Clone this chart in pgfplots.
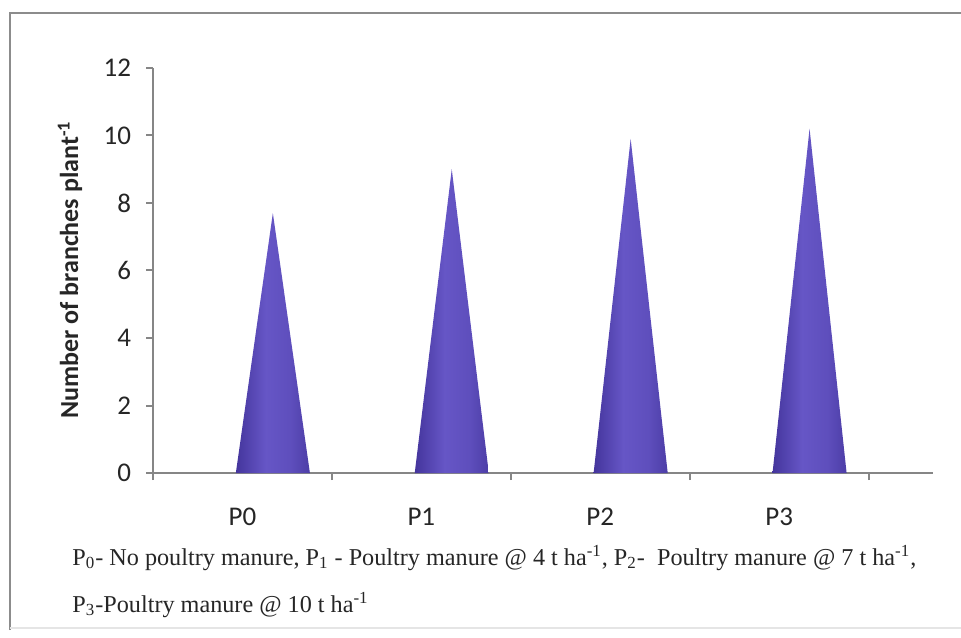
\documentclass[border=0pt]{standalone}
\usepackage{fontspec}
\setmainfont{Carlito}
\newfontfamily\capfont{Liberation Serif}
\usepackage{pgfplots}
\pgfplotsset{compat=1.18}

\definecolor{axisgray}{HTML}{868686}
\definecolor{framegray}{HTML}{8C8C8C}
\definecolor{conedark}{HTML}{3F3096}
\definecolor{conelight}{HTML}{6656C6}
\definecolor{coneedge}{HTML}{2E2276}

% lit-from-the-left cone surface
\pgfdeclarehorizontalshading{cone}{100bp}{%
  color(0bp)=(coneedge!70!conedark);
  color(22bp)=(conedark);
  color(45bp)=(conelight);
  color(62bp)=(conelight!80!conedark);
  color(85bp)=(conedark);
  color(100bp)=(coneedge)}

\begin{document}
\begin{tikzpicture}
  % page area and frame
  \path[use as bounding box, fill=white] (0,0) rectangle (480.5pt,318.5pt);
  \draw[framegray, line width=1pt] (5pt,3.5pt) -- (5pt,312pt) -- (480.5pt,312pt);
  \draw[black!10, line width=0.8pt] (5pt,4.5pt) -- (480.5pt,4.5pt);

  \begin{axis}[
    at={(76.5pt,82pt)}, anchor=south west,
    scale only axis, width=390pt, height=202.5pt,
    xmin=0, xmax=4.36, ymin=0, ymax=12,
    axis lines*=left,
    axis line style={axisgray, line width=1pt},
    tick style={axisgray, line width=1pt},
    tick align=outside, major tick length=3.5pt,
    ytick={0,2,...,12},
    xtick={0,1,2,3,4}, xticklabels={},
    extra x ticks={0.5,1.5,2.5,3.5},
    extra x tick labels={P0,P1,P2,P3},
    extra x tick style={major tick length=0pt, xticklabel style={yshift=-14pt}},
    tick label style={font=\fontsize{13.5}{15}\selectfont, text=black!85},
    yticklabel style={xshift=-4pt},
    /pgf/number format/assume math mode=true,
    clip=false,
  ]
    % cones: base from centre +/- 0.207, apex at the value
    \addplot[draw=none, shading=cone]
      coordinates {(0.463,0) (0.670,7.7) (0.877,0)} -- cycle;
    \addplot[draw=none, shading=cone]
      coordinates {(1.463,0) (1.670,9.0) (1.877,0)} -- cycle;
    \addplot[draw=none, shading=cone]
      coordinates {(2.463,0) (2.670,9.9) (2.877,0)} -- cycle;
    \addplot[draw=none, shading=cone]
      coordinates {(3.463,0) (3.670,10.2) (3.877,0)} -- cycle;
  \end{axis}

  % y axis title
  \node[rotate=90, font=\fontsize{13}{15}\selectfont\bfseries, text=black!85]
    at (35pt,183.5pt) {Number of branches plant\textsuperscript{-1}};

  % treatment key
  \node[anchor=base west, font=\capfont\fontsize{12.1}{14}\selectfont, text=black!85, inner sep=0pt]
    at (36pt,36pt) {P\textsubscript{0}- No poultry manure, P\textsubscript{1} - Poultry manure @ 4 t ha\textsuperscript{-1}, P\textsubscript{2}-\ \ Poultry manure @ 7 t ha\textsuperscript{-1},};
  \node[anchor=base west, font=\capfont\fontsize{12.1}{14}\selectfont, text=black!85, inner sep=0pt]
    at (36pt,12.5pt) {P\textsubscript{3}-Poultry manure @ 10 t ha\textsuperscript{-1}};
\end{tikzpicture}
\end{document}
